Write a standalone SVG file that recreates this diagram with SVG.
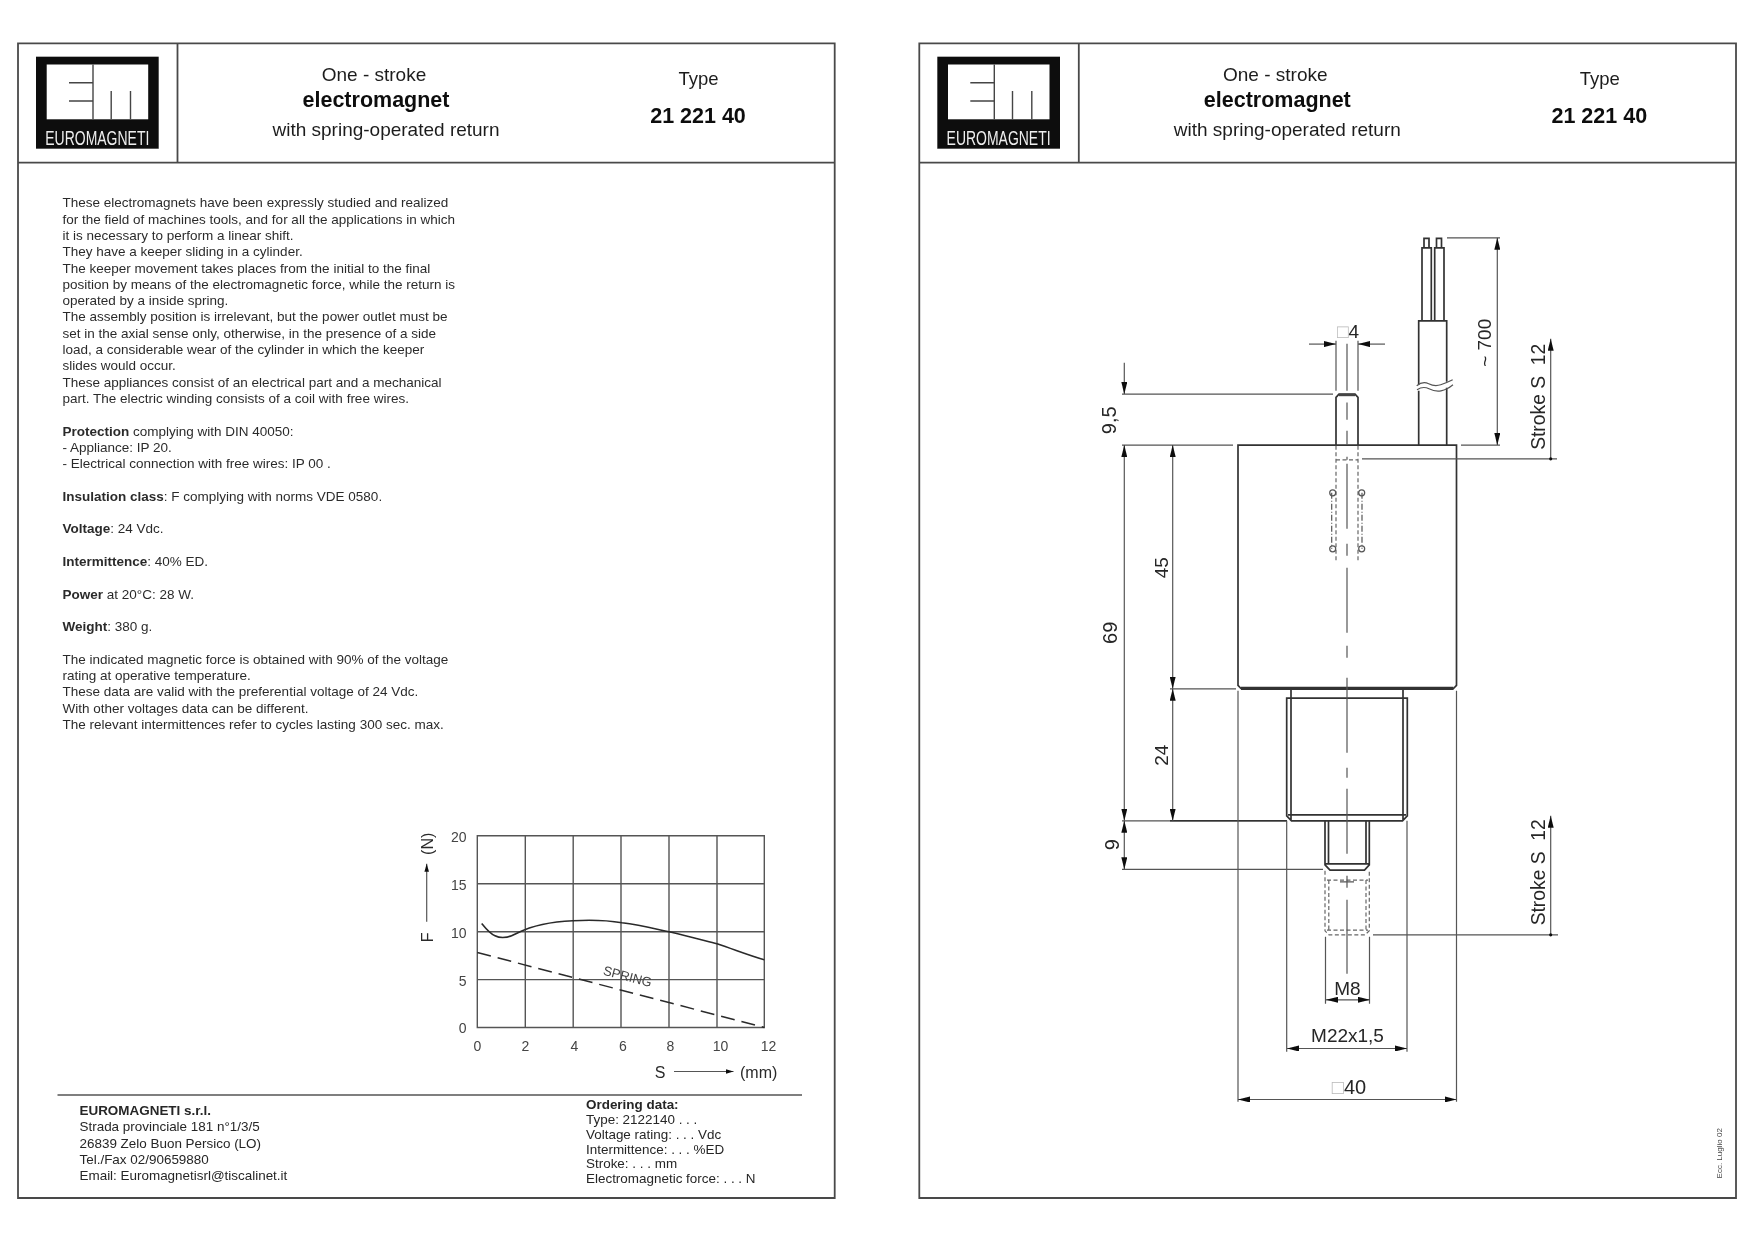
<svg xmlns="http://www.w3.org/2000/svg" width="1755" height="1240" viewBox="0 0 1755 1240">
<style>
text{font-family:"Liberation Sans",Arial,sans-serif;fill:#1e1e1e}
.b{font-weight:bold}
.body{font-size:13.5px;fill:#2c2c2c}
.foot{font-size:13.45px;fill:#262626}
.h1{font-size:19px;text-anchor:middle}
.h2{font-size:21.5px;font-weight:bold;text-anchor:middle;fill:#111}
.fr{fill:none;stroke:#4a4a4a;stroke-width:1.8}
.th{fill:none;stroke:#555;stroke-width:1.2}
.g{fill:none;stroke:#555;stroke-width:1.4}
.ol{fill:none;stroke:#333;stroke-width:1.7}
.ds{fill:none;stroke:#666;stroke-width:1.2;stroke-dasharray:4 2.5}
.dm{font-size:19px;text-anchor:middle;fill:#262626}
.tick{font-size:14px;fill:#444}
.lg{fill:none;stroke:#444;stroke-width:1.4}
.sq{fill:#b8b8b8}
</style>
<defs>
<filter id="soft" filterUnits="userSpaceOnUse" x="0" y="0" width="1755" height="1240"><feGaussianBlur stdDeviation="0.4"/></filter>
<marker id="ar" markerUnits="userSpaceOnUse" markerWidth="12" markerHeight="6" refX="10" refY="2.5" orient="auto-start-reverse" viewBox="0 0 10 5"><path d="M0 0L10 2.5L0 5Z" fill="#111"/></marker>
<marker id="as" markerUnits="userSpaceOnUse" markerWidth="8" markerHeight="5" refX="7" refY="2" orient="auto" viewBox="0 0 7 4"><path d="M0 0L7 2L0 4Z" fill="#111"/></marker>
</defs>
<rect width="1755" height="1240" fill="#fff"/>

<g id="sheet-left" filter="url(#soft)">
<path class="fr" d="M18 43.3H834.7V1198H18ZM18 162.7H834.7M177.5 43.3V162.7"/>
<g id="logo-left">
<rect x="36" y="56.7" width="122.7" height="92" fill="#0c0c0c"/>
<rect x="46.7" y="64.5" width="101.5" height="54.8" fill="#fff"/>
<path class="lg" d="M93 64.5V119.3M69 82.7H93M69 101H93M111.2 91V119.3M130.5 91V119.3"/>
<text x="97.3" y="145" font-size="20" textLength="104" lengthAdjust="spacingAndGlyphs" text-anchor="middle" style="fill:#eee">EUROMAGNETI</text>
</g>
<g id="title-left">
<text class="h1" x="374" y="81">One - stroke</text>
<text class="h2" x="376" y="107">electromagnet</text>
<text class="h1" x="386" y="136">with spring-operated return</text>
<text class="h1" x="698.5" y="85" style="font-size:18.5px">Type</text>
<text class="h2" x="698" y="122.5">21 221 40</text>
</g>
<g id="description" class="body">
<text class="body" x="62.5" y="207.3">These electromagnets have been expressly studied and realized</text>
<text class="body" x="62.5" y="223.6">for the field of machines tools, and for all the applications in which</text>
<text class="body" x="62.5" y="239.9">it is necessary to perform a linear shift.</text>
<text class="body" x="62.5" y="256.2">They have a keeper sliding in a cylinder.</text>
<text class="body" x="62.5" y="272.5">The keeper movement takes places from the initial to the final</text>
<text class="body" x="62.5" y="288.8">position by means of the electromagnetic force, while the return is</text>
<text class="body" x="62.5" y="305.1">operated by a inside spring.</text>
<text class="body" x="62.5" y="321.4">The assembly position is irrelevant, but the power outlet must be</text>
<text class="body" x="62.5" y="337.7">set in the axial sense only, otherwise, in the presence of a side</text>
<text class="body" x="62.5" y="354">load, a considerable wear of the cylinder in which the keeper</text>
<text class="body" x="62.5" y="370.3">slides would occur.</text>
<text class="body" x="62.5" y="386.6">These appliances consist of an electrical part and a mechanical</text>
<text class="body" x="62.5" y="402.9">part. The electric winding consists of a coil with free wires.</text>
<text class="body" x="62.5" y="435.7"><tspan class="b">Protection</tspan> complying with DIN 40050:</text>
<text class="body" x="62.5" y="452">- Appliance: IP 20.</text>
<text class="body" x="62.5" y="468.3">- Electrical connection with free wires: IP 00 .</text>
<text class="body" x="62.5" y="500.9"><tspan class="b">Insulation class</tspan>: F complying with norms VDE 0580.</text>
<text class="body" x="62.5" y="533.4"><tspan class="b">Voltage</tspan>: 24 Vdc.</text>
<text class="body" x="62.5" y="566"><tspan class="b">Intermittence</tspan>: 40% ED.</text>
<text class="body" x="62.5" y="598.6"><tspan class="b">Power</tspan> at 20°C: 28 W.</text>
<text class="body" x="62.5" y="631.2"><tspan class="b">Weight</tspan>: 380 g.</text>
<text class="body" x="62.5" y="663.8">The indicated magnetic force is obtained with 90% of the voltage</text>
<text class="body" x="62.5" y="680">rating at operative temperature.</text>
<text class="body" x="62.5" y="696.3">These data are valid with the preferential voltage of 24 Vdc.</text>
<text class="body" x="62.5" y="712.6">With other voltages data can be different.</text>
<text class="body" x="62.5" y="729">The relevant intermittences refer to cycles lasting 300 sec. max.</text>
</g>
<g id="chart" transform="translate(0 0.8)">
<path class="g" d="M477.3 835H764.3V1026.7H477.3ZM477.3 883H764.3M477.3 931H764.3M477.3 978.8H764.3M525.3 835V1026.7M573.2 835V1026.7M621 835V1026.7M669 835V1026.7M717 835V1026.7"/>
<path fill="none" stroke="#2a2a2a" stroke-width="1.6" d="M481.7 922.7C486 928 490 933 495 935C501 938 509 937 518 932C530 926 550 921 573 920C590 919 610 920 622 922C640 924 655 928 669 931C690 936 705 940 717 943C735 949 750 955 764.3 959"/>
<path fill="none" stroke="#2a2a2a" stroke-width="1.5" stroke-dasharray="14 7" d="M477.3 951.7L764.3 1026.7"/>
<text transform="translate(626.5 980) rotate(14.6)" font-size="13" text-anchor="middle" style="fill:#444">SPRING</text>
<text class="tick" x="466.5" y="841.7" text-anchor="end">20</text>
<text class="tick" x="466.5" y="889" text-anchor="end">15</text>
<text class="tick" x="466.5" y="937" text-anchor="end">10</text>
<text class="tick" x="466.5" y="985" text-anchor="end">5</text>
<text class="tick" x="466.5" y="1032.5" text-anchor="end">0</text>
<text class="tick" x="477.5" y="1050" text-anchor="middle">0</text>
<text class="tick" x="525.5" y="1050" text-anchor="middle">2</text>
<text class="tick" x="574.5" y="1050" text-anchor="middle">4</text>
<text class="tick" x="623" y="1050" text-anchor="middle">6</text>
<text class="tick" x="670.5" y="1050" text-anchor="middle">8</text>
<text class="tick" x="720.5" y="1050" text-anchor="middle">10</text>
<text class="tick" x="768.5" y="1050" text-anchor="middle">12</text>
<text x="660" y="1077.7" font-size="16" text-anchor="middle" style="fill:#2a2a2a">S</text>
<path class="th" marker-end="url(#as)" d="M674 1070.7H733.5"/>
<text x="740" y="1077.7" font-size="16" style="fill:#2a2a2a">(mm)</text>
<text transform="translate(432.5 936.6) rotate(-90)" font-size="16" text-anchor="middle" style="fill:#2a2a2a">F</text>
<path class="th" marker-end="url(#as)" d="M426.7 921V863"/>
<text transform="translate(432.5 843) rotate(-90)" font-size="16" text-anchor="middle" style="fill:#2a2a2a">(N)</text>
</g>
<path id="footer-rule" class="g" d="M57.5 1095H802"/>
<g id="address">
<text class="foot b" x="79.5" y="1114.8">EUROMAGNETI s.r.l.</text>
<text class="foot" x="79.5" y="1131.3">Strada provinciale 181 n°1/3/5</text>
<text class="foot" x="79.5" y="1147.5">26839 Zelo Buon Persico (LO)</text>
<text class="foot" x="79.5" y="1163.7">Tel./Fax 02/90659880</text>
<text class="foot" x="79.5" y="1180">Email: Euromagnetisrl@tiscalinet.it</text>
</g>
<g id="ordering">
<text class="foot b" x="586" y="1109">Ordering data:</text>
<text class="foot" x="586" y="1123.5">Type: 2122140 . . .</text>
<text class="foot" x="586" y="1138.7">Voltage rating: . . . Vdc</text>
<text class="foot" x="586" y="1153.7">Intermittence: . . . %ED</text>
<text class="foot" x="586" y="1168.2">Stroke: . . . mm</text>
<text class="foot" x="586" y="1183">Electromagnetic force: . . . N</text>
</g>
</g>

<g id="sheet-right" filter="url(#soft)">
<path class="fr" d="M919.3 43.3H1736V1198H919.3ZM919.3 162.7H1736M1078.8 43.3V162.7"/>
<g id="logo-right">
<rect x="937.3" y="56.7" width="122.7" height="92" fill="#0c0c0c"/>
<rect x="948" y="64.5" width="101.5" height="54.8" fill="#fff"/>
<path class="lg" d="M994.3 64.5V119.3M970.3 82.7H994.3M970.3 101H994.3M1012.5 91V119.3M1031.8 91V119.3"/>
<text x="998.6" y="145" font-size="20" textLength="104" lengthAdjust="spacingAndGlyphs" text-anchor="middle" style="fill:#eee">EUROMAGNETI</text>
</g>
<g id="title-right">
<text class="h1" x="1275.3" y="81">One - stroke</text>
<text class="h2" x="1277.3" y="107">electromagnet</text>
<text class="h1" x="1287.3" y="136">with spring-operated return</text>
<text class="h1" x="1599.8" y="85" style="font-size:18.5px">Type</text>
<text class="h2" x="1599.3" y="122.5">21 221 40</text>
</g>
<g id="drawing" transform="translate(0 0.8)">
<g id="electromagnet-part">
<path class="ol" d="M1424 247V237.5H1429V247M1436.5 247V237.5H1441.5V247M1422 320V247H1431.3V320M1434.7 320V247H1444V320"/>
<path class="ol" d="M1418.7 384V320H1446.7V381M1418.7 390V444.3M1446.7 387V444.3"/>
<path class="th" d="M1416.7 385q6 -5 12 -2t12 1t12 -5M1417 389q6 -4 12 -1t12 2t12 -6"/>
<path class="ol" d="M1336 444.3V396.5L1339 393.3H1355L1358 396.5V444.3"/>
<path fill="none" stroke="#444" stroke-width="2.4" d="M1339 394.2H1355"/>
<path class="ol" d="M1238 444.3H1456.5V684.5L1453.5 687.7H1241L1238 684.5Z"/>
<path fill="none" stroke="#333" stroke-width="3.2" d="M1241 687.5H1453.5"/>
<path class="ol" d="M1291 688V697.3M1403 688V697.3"/>
<path class="ol" d="M1286.7 697.3H1407.3V815L1402.5 820H1291.5L1286.7 815ZM1291 697.3V820M1403 697.3V820M1288 814H1406"/>
<path class="ol" d="M1325 820V864L1330 869.3H1364.5L1369.3 864V820M1328.5 820V863M1366 820V863M1325 863H1369.3"/>
<path class="ds" d="M1325 870V930L1329 934H1365L1369.3 930V870M1328.8 879.3V930M1366 879.3V930M1327 879.3H1368M1327 929.3H1368M1336 445V560M1358 445V560M1336 459H1358"/>
<path class="th" d="M1331.7 492V548M1362 492V548" stroke-dasharray="6 2 1 2"/>
<circle class="th" cx="1332.7" cy="492" r="3"/><circle class="th" cx="1361.7" cy="492" r="3"/><circle class="th" cx="1332.7" cy="548" r="3"/><circle class="th" cx="1361.7" cy="548" r="3"/>
<path id="centerline" class="th" d="M1347 343V390M1347 401.7V419M1347 430V444M1347 456V459M1347 463V528M1347 543V555M1347 567V632M1347 645V657M1347 677V752M1347 767V777M1347 788V853M1347 875V887M1340 881H1354M1347 899V973"/>
</g>
<g id="connectors">
<path class="th" d="M1336 340V390M1358 340V390M1122 393.3H1333M1122 444.3H1233M1122 820H1287M1122 868.5H1323M1170 688H1236M1461 444.3H1500M1447 237H1500M1362 458H1557M1373 934H1558"/>
<path fill="none" stroke="#333" stroke-width="1.5" d="M1170 820H1287"/>
<path class="th" d="M1238 690V1101M1456.5 690V1101M1286.7 820V1051M1407 820V1051M1325.5 936V1003M1369.5 936V1003"/>
<path class="th" marker-end="url(#ar)" d="M1309 343.3H1336"/>
<path class="th" marker-end="url(#ar)" d="M1385 343.3H1358"/>
<path class="th" marker-end="url(#ar)" d="M1124.3 362V393.3"/>
<path class="th" marker-start="url(#ar)" marker-end="url(#ar)" d="M1124.3 444.3V820"/>
<path class="th" marker-start="url(#ar)" marker-end="url(#ar)" d="M1124.3 820V868.5"/>
<path class="th" marker-start="url(#ar)" marker-end="url(#ar)" d="M1172.7 444.3V688"/>
<path class="th" marker-start="url(#ar)" marker-end="url(#ar)" d="M1172.7 688V820"/>
<path class="th" marker-start="url(#ar)" marker-end="url(#ar)" d="M1497.3 237V444.3"/>
<path class="th" marker-end="url(#ar)" d="M1550.7 458V338"/>
<circle cx="1550.7" cy="458" r="1.6" fill="#111"/>
<path class="th" marker-end="url(#ar)" d="M1550.7 934V815"/>
<circle cx="1550.7" cy="934" r="1.6" fill="#111"/>
<path class="th" marker-start="url(#ar)" marker-end="url(#ar)" d="M1326 999H1370"/>
<path class="th" marker-start="url(#ar)" marker-end="url(#ar)" d="M1287 1047.7H1407"/>
<path class="th" marker-start="url(#ar)" marker-end="url(#ar)" d="M1238 1098.7H1456.5"/>
</g>
<g id="dimension-labels">
<text class="dm" x="1348" y="337"><tspan class="sq">□</tspan>4</text>
<text class="dm" transform="translate(1116.2 419.5) rotate(-90)" style="font-size:20px">9,5</text>
<text class="dm" transform="translate(1117 632) rotate(-90)" style="font-size:20px">69</text>
<text class="dm" transform="translate(1118.5 844) rotate(-90)" style="font-size:20px">9</text>
<text class="dm" transform="translate(1168 567) rotate(-90)">45</text>
<text class="dm" transform="translate(1168 754.5) rotate(-90)">24</text>
<text class="dm" transform="translate(1490.5 342) rotate(-90)">~ 700</text>
<text class="dm" transform="translate(1545 396) rotate(-90)" xml:space="preserve" style="font-size:19.3px">Stroke S  12</text>
<text class="dm" transform="translate(1545 871.5) rotate(-90)" xml:space="preserve" style="font-size:19.3px">Stroke S  12</text>
<text class="dm" x="1347.5" y="994">M8</text>
<text class="dm" x="1347.5" y="1041.5">M22x1,5</text>
<text class="dm" x="1349" y="1093" style="font-size:20px"><tspan class="sq">□</tspan>40</text>
<text transform="translate(1722 1152.5) rotate(-90)" font-size="8" text-anchor="middle" style="fill:#444">Ecc. Luglio 02</text>
</g>
</g>
</g>
</svg>
